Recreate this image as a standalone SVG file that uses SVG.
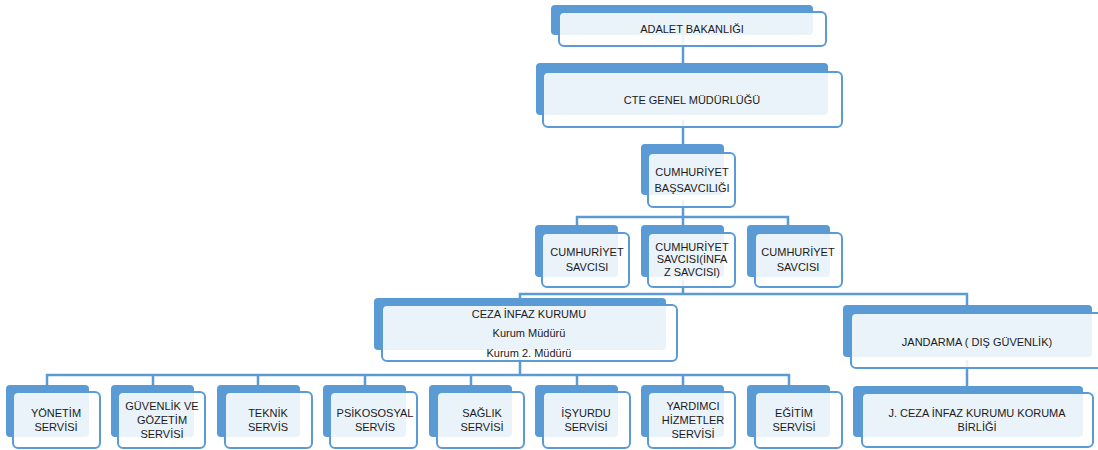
<svg xmlns="http://www.w3.org/2000/svg" width="1098" height="450" viewBox="0 0 1098 450">
<style>
.bg{fill:#ffffff}
.back{fill:#5B9BD5}
.front{fill:#ffffff;fill-opacity:0.88;stroke:#5B9BD5;stroke-width:2}
.con{fill:none;stroke:#5B9BD5;stroke-width:2.5}
text{font-family:"Liberation Sans",Arial,sans-serif;font-size:11px;fill:#1a1a1a;text-anchor:middle}
</style>
<rect class="bg" x="0" y="0" width="1098" height="450"/>
<g id="connectors">
<path class="con" d="M683 30V72"/>
<path class="con" d="M683 120V150"/>
<path class="con" d="M683 200V217M577 228V217H788V228M683 217V228"/>
<path class="con" d="M683 280V294M520 300V294H967V308"/>
<path class="con" d="M520 355V375M47 388V375H789V388M153 375V388M258 375V388M365 375V388M471 375V388M577 375V388M683 375V388"/>
<path class="con" d="M967 360V390"/>
</g>
<g id="adalet">
<rect class="back" x="551" y="5" width="262" height="30" rx="4"/>
<rect class="front" x="559" y="12" width="267" height="34" rx="5"/>
<text x="692" y="33">ADALET BAKANLIĞI</text>
</g>
<g id="cte">
<rect class="back" x="536" y="63" width="292" height="52" rx="4"/>
<rect class="front" x="543" y="72" width="299" height="55" rx="5"/>
<text x="692" y="104">CTE GENEL MÜDÜRLÜĞÜ</text>
</g>
<g id="bassavcilik">
<rect class="back" x="641" y="144" width="83" height="51" rx="4"/>
<rect class="front" x="648" y="153" width="87" height="54" rx="5"/>
<text x="692" y="176">CUMHURİYET</text>
<text x="692" y="192">BAŞSAVCILIĞI</text>
</g>
<g id="savci1">
<rect class="back" x="535" y="225" width="83" height="52" rx="4"/>
<rect class="front" x="542" y="233" width="87" height="54" rx="5"/>
<text x="587" y="256">CUMHURİYET</text>
<text x="587" y="271">SAVCISI</text>
</g>
<g id="savci2">
<rect class="back" x="641" y="225" width="83" height="52" rx="4"/>
<rect class="front" x="648" y="233" width="87" height="54" rx="5"/>
<text x="692" y="251">CUMHURİYET</text>
<text x="692" y="263">SAVCISI(İNFA</text>
<text x="692" y="276">Z SAVCISI)</text>
</g>
<g id="savci3">
<rect class="back" x="747" y="225" width="83" height="52" rx="4"/>
<rect class="front" x="755" y="233" width="87" height="54" rx="5"/>
<text x="798" y="256">CUMHURİYET</text>
<text x="798" y="271">SAVCISI</text>
</g>
<g id="ceza">
<rect class="back" x="374" y="298" width="292" height="52" rx="4"/>
<rect class="front" x="382" y="305" width="295" height="56" rx="5"/>
<text x="529" y="318">CEZA İNFAZ KURUMU</text>
<text x="529" y="337">Kurum Müdürü</text>
<text x="529" y="357">Kurum 2. Müdürü</text>
</g>
<g id="jandarma">
<rect class="back" x="843" y="305" width="249" height="52" rx="4"/>
<rect class="front" x="851" y="313" width="262" height="55" rx="5"/>
<text x="977" y="346">JANDARMA ( DIŞ GÜVENLİK)</text>
</g>
<g id="jceza">
<rect class="back" x="853" y="386" width="230" height="51" rx="4"/>
<rect class="front" x="862" y="393" width="231" height="54" rx="5"/>
<text x="977" y="417">J. CEZA İNFAZ KURUMU KORUMA</text>
<text x="977" y="431">BİRLİĞİ</text>
</g>
<g id="yonetim">
<rect class="back" x="6" y="385" width="83" height="52" rx="4"/>
<rect class="front" x="13" y="392" width="87" height="56" rx="5"/>
<text x="56" y="417">YÖNETİM</text>
<text x="56" y="431">SERVİSİ</text>
</g>
<g id="guvenlik">
<rect class="back" x="111" y="385" width="83" height="52" rx="4"/>
<rect class="front" x="118" y="392" width="87" height="56" rx="5"/>
<text x="162" y="410">GÜVENLİK VE</text>
<text x="162" y="424">GÖZETİM</text>
<text x="162" y="438">SERVİSİ</text>
</g>
<g id="teknik">
<rect class="back" x="217" y="385" width="83" height="52" rx="4"/>
<rect class="front" x="225" y="392" width="87" height="56" rx="5"/>
<text x="268" y="417">TEKNİK</text>
<text x="268" y="431">SERVİS</text>
</g>
<g id="psikososyal">
<rect class="back" x="323" y="385" width="83" height="52" rx="4"/>
<rect class="front" x="330" y="392" width="87" height="56" rx="5"/>
<text x="375" y="417">PSİKOSOSYAL</text>
<text x="375" y="431">SERVİS</text>
</g>
<g id="saglik">
<rect class="back" x="429" y="385" width="83" height="52" rx="4"/>
<rect class="front" x="437" y="392" width="87" height="56" rx="5"/>
<text x="482" y="417">SAĞLIK</text>
<text x="482" y="431">SERVİSİ</text>
</g>
<g id="isyurdu">
<rect class="back" x="535" y="385" width="83" height="52" rx="4"/>
<rect class="front" x="543" y="392" width="87" height="56" rx="5"/>
<text x="586" y="417">İŞYURDU</text>
<text x="586" y="431">SERVİSİ</text>
</g>
<g id="yardimci">
<rect class="back" x="641" y="385" width="83" height="52" rx="4"/>
<rect class="front" x="648" y="392" width="87" height="56" rx="5"/>
<text x="693" y="410">YARDIMCI</text>
<text x="693" y="424">HİZMETLER</text>
<text x="693" y="438">SERVİSİ</text>
</g>
<g id="egitim">
<rect class="back" x="747" y="385" width="83" height="52" rx="4"/>
<rect class="front" x="755" y="392" width="87" height="56" rx="5"/>
<text x="794" y="417">EĞİTİM</text>
<text x="794" y="431">SERVİSİ</text>
</g>
</svg>
